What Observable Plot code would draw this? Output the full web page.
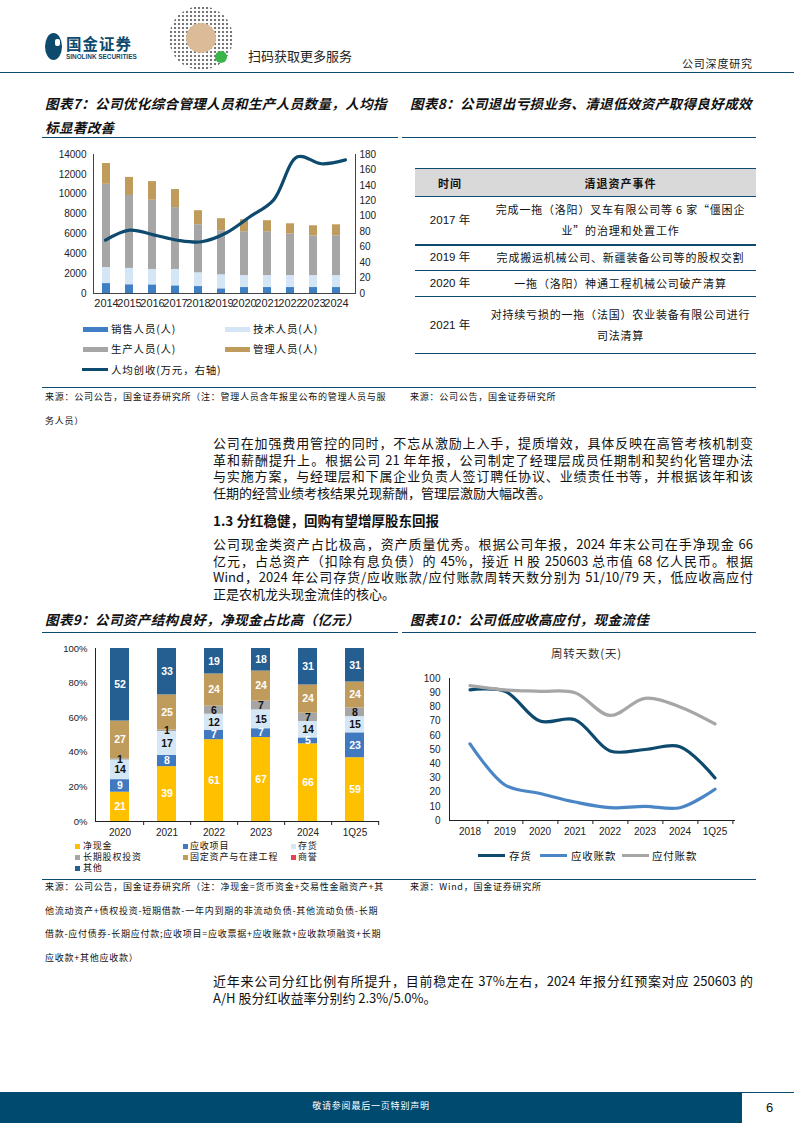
<!DOCTYPE html>
<html><head><meta charset="utf-8">
<script src="https://cdn.jsdelivr.net/npm/d3@7"></script>
<script src="https://cdn.jsdelivr.net/npm/@observablehq/plot@0.6"></script>
<style>
body{margin:0;background:#fff;}
#page{position:relative;width:794px;height:1123px;overflow:hidden;font-family:"Noto Sans CJK SC","Noto Sans",sans-serif;color:#111;background:#fff;}
.abs{position:absolute;}
.hline{position:absolute;height:0;border-top:1.5px solid #0d4a6e;}
.title{position:absolute;font-size:13.5px;font-weight:bold;font-style:italic;line-height:24px;letter-spacing:0.4px;white-space:nowrap;color:#111;}
.src{position:absolute;font-size:9px;line-height:23.5px;letter-spacing:0.75px;white-space:nowrap;color:#111;}
.body{position:absolute;left:213px;width:540px;font-size:13px;line-height:16.6px;color:#111;}
.body div{white-space:nowrap;}
.body .j{text-align:justify;text-align-last:justify;white-space:normal;}
.lg{position:absolute;font-size:10.5px;line-height:12px;white-space:nowrap;letter-spacing:0.8px;}
.sw{position:absolute;}
.lg9{position:absolute;font-size:9px;line-height:10px;white-space:nowrap;letter-spacing:0.8px;}
table#t8{position:absolute;left:415px;top:168px;width:341px;border-collapse:collapse;font-size:11px;}
#t8 th{background:#d9d9d9;height:27px;font-weight:bold;padding:0;border-top:1.5px solid #0d4a6e;border-bottom:1px solid #0d4a6e;font-size:11px;letter-spacing:1px;}
#t8 td{padding:0;text-align:center;border-bottom:1px solid #0d4a6e;line-height:21px;letter-spacing:0.8px;white-space:nowrap;}
#t8 td.y{font-family:"Liberation Sans","Noto Sans CJK SC",sans-serif;font-size:11.5px;letter-spacing:0;}
</style></head>
<body><div id="page">

<!-- header -->
<div class="abs" style="left:45px;top:33px;width:17px;height:27px;border-radius:50%;background:#0d4a6e;"></div>
<div class="abs" style="left:55px;top:39px;width:5px;height:7px;background:#fff;border-radius:2px;"></div>
<div class="abs" style="left:66px;top:34px;font-size:15.5px;font-weight:bold;color:#0d4a6e;letter-spacing:1px;line-height:18px;">国金证券</div>
<div class="abs" style="left:66px;top:53px;font-size:6.4px;font-weight:bold;color:#0d4a6e;font-family:'Liberation Sans',sans-serif;line-height:8px;">SINOLINK SECURITIES</div>
<div class="abs" style="left:169px;top:6px;width:64px;height:64px;border-radius:50%;background:radial-gradient(circle,#555 1px,transparent 1.6px) 0 0/4px 4px;opacity:0.8;"></div>
<div class="abs" style="left:186px;top:23px;width:30px;height:30px;border-radius:50%;background:#dcbc98;"></div>
<div class="abs" style="left:215px;top:51px;width:12px;height:12px;border-radius:50%;background:#3ab54a;"></div>
<div class="abs" style="left:248px;top:47px;font-size:13px;line-height:18px;color:#222;">扫码获取更多服务</div>
<div class="abs" style="left:682px;top:55px;font-size:11px;line-height:16px;letter-spacing:0.8px;color:#222;">公司深度研究</div>
<div class="hline" style="left:0;top:72px;width:794px;"></div>

<!-- chart titles -->
<div class="title" style="left:45px;top:91px;">图表7：公司优化综合管理人员和生产人员数量，人均指<br>标显著改善</div>
<div class="title" style="left:410px;top:91px;">图表8：公司退出亏损业务、清退低效资产取得良好成效</div>
<div class="hline" style="left:42px;top:137px;width:356px;"></div>
<div class="hline" style="left:402px;top:137px;width:354px;"></div>

<div id="c7" class="abs" style="left:40px;top:140px;"></div>
<div id="c7b" class="abs" style="left:40px;top:140px;"></div>

<!-- legend 7 -->
<div class="sw" style="left:83px;top:327px;width:25px;height:5px;background:#3f7fc4;"></div>
<div class="lg" style="left:111px;top:323px;">销售人员(人)</div>
<div class="sw" style="left:225px;top:327px;width:25px;height:5px;background:#d4e5f5;"></div>
<div class="lg" style="left:253px;top:323px;">技术人员(人)</div>
<div class="sw" style="left:83px;top:347px;width:25px;height:5px;background:#a6a6a6;"></div>
<div class="lg" style="left:111px;top:343px;">生产人员(人)</div>
<div class="sw" style="left:225px;top:347px;width:25px;height:5px;background:#bf9b5c;"></div>
<div class="lg" style="left:253px;top:343px;">管理人员(人)</div>
<div class="sw" style="left:82px;top:368px;width:26px;height:3px;background:#0d4a6e;"></div>
<div class="lg" style="left:111px;top:364px;">人均创收(万元，右轴)</div>

<!-- table 8 -->
<table id="t8">
<tr><th style="width:70px;">时间</th><th>清退资产事件</th></tr>
<tr style="height:48px;"><td class="y" style="border-bottom:2px solid #0d4a6e;">2017 年</td><td style="border-bottom:2px solid #0d4a6e;">完成一拖（洛阳）叉车有限公司等 6 家“僵困企<br>业”的治理和处置工作</td></tr>
<tr style="height:26px;"><td class="y">2019 年</td><td>完成搬运机械公司、新疆装备公司等的股权交割</td></tr>
<tr style="height:26px;"><td class="y">2020 年</td><td>一拖（洛阳）神通工程机械公司破产清算</td></tr>
<tr style="height:57px;"><td class="y">2021 年</td><td>对持续亏损的一拖（法国）农业装备有限公司进行<br>司法清算</td></tr>
</table>

<div class="hline" style="left:42px;top:387px;width:714px;border-top-width:1px;"></div>
<div class="src" style="left:45px;top:385px;">来源：公司公告，国金证券研究所（注：管理人员含年报里公布的管理人员与服<br>务人员）</div>
<div class="src" style="left:410px;top:385px;">来源：公司公告，国金证券研究所</div>

<!-- body text -->
<div class="body" style="top:435px;">
<div class="j">公司在加强费用管控的同时，不忘从激励上入手，提质增效，具体反映在高管考核机制变</div>
<div class="j">革和薪酬提升上。根据公司 21 年年报，公司制定了经理层成员任期制和契约化管理办法</div>
<div class="j">与实施方案，与经理层和下属企业负责人签订聘任协议、业绩责任书等，并根据该年和该</div>
<div>任期的经营业绩考核结果兑现薪酬，管理层激励大幅改善。</div>
</div>
<div class="body" style="top:512px;font-weight:bold;font-size:13.5px;">1.3 分红稳健，回购有望增厚股东回报</div>
<div class="body" style="top:536px;">
<div class="j">公司现金类资产占比极高，资产质量优秀。根据公司年报，2024 年末公司在手净现金 66</div>
<div class="j">亿元，占总资产（扣除有息负债）的 45%，接近 H 股 250603 总市值 68 亿人民币。根据</div>
<div class="j">Wind，2024 年公司存货/应收账款/应付账款周转天数分别为 51/10/79 天，低应收高应付</div>
<div>正是农机龙头现金流佳的核心。</div>
</div>

<div class="title" style="left:45px;top:607px;">图表9：公司资产结构良好，净现金占比高（亿元）</div>
<div class="title" style="left:410px;top:607px;">图表10：公司低应收高应付，现金流佳</div>
<div class="hline" style="left:42px;top:632px;width:356px;"></div>
<div class="hline" style="left:402px;top:632px;width:354px;"></div>

<div id="c9" class="abs" style="left:40px;top:630px;"></div>
<div id="c10" class="abs" style="left:400px;top:630px;"></div>
<div class="abs" style="left:551px;top:645px;font-size:11.5px;line-height:16px;color:#333;letter-spacing:0.8px;">周转天数(天)</div>

<!-- legend 9 -->
<div class="sw" style="left:75px;top:844px;width:5px;height:5px;background:#ffc000;"></div>
<div class="lg9" style="left:83px;top:841px;">净现金</div>
<div class="sw" style="left:183px;top:844px;width:5px;height:5px;background:#4079c0;"></div>
<div class="lg9" style="left:190px;top:841px;">应收项目</div>
<div class="sw" style="left:291px;top:844px;width:5px;height:5px;background:#d5e6f5;"></div>
<div class="lg9" style="left:298px;top:841px;">存货</div>
<div class="sw" style="left:75px;top:855px;width:5px;height:5px;background:#a6a6a6;"></div>
<div class="lg9" style="left:83px;top:852px;">长期股权投资</div>
<div class="sw" style="left:183px;top:855px;width:5px;height:5px;background:#bf9b5c;"></div>
<div class="lg9" style="left:190px;top:852px;">固定资产与在建工程</div>
<div class="sw" style="left:291px;top:855px;width:5px;height:5px;background:#e8404f;"></div>
<div class="lg9" style="left:298px;top:852px;">商誉</div>
<div class="sw" style="left:75px;top:866px;width:5px;height:5px;background:#255e91;"></div>
<div class="lg9" style="left:83px;top:863px;">其他</div>

<!-- legend 10 -->
<div class="sw" style="left:478px;top:854px;width:27px;height:3px;background:#0d4a6e;"></div>
<div class="lg" style="left:509px;top:850px;">存货</div>
<div class="sw" style="left:540px;top:854px;width:27px;height:3px;background:#4a86c6;"></div>
<div class="lg" style="left:571px;top:850px;">应收账款</div>
<div class="sw" style="left:622px;top:854px;width:27px;height:3px;background:#a6a6a6;"></div>
<div class="lg" style="left:652px;top:850px;">应付账款</div>

<div class="hline" style="left:42px;top:879px;width:714px;border-top-width:1px;"></div>
<div class="src" style="left:45px;top:875px;">来源：公司公告，国金证券研究所（注：净现金=货币资金+交易性金融资产+其<br>他流动资产+债权投资-短期借款-一年内到期的非流动负债-其他流动负债-长期<br>借款-应付债券-长期应付款;应收项目=应收票据+应收账款+应收款项融资+长期<br>应收款+其他应收款）</div>
<div class="src" style="left:410px;top:875px;">来源：Wind，国金证券研究所</div>

<div class="body" style="top:973px;">
<div class="j">近年来公司分红比例有所提升，目前稳定在 37%左右，2024 年报分红预案对应 250603 的</div>
<div>A/H 股分红收益率分别约 2.3%/5.0%。</div>
</div>

<!-- footer -->
<div class="abs" style="left:0;top:1092px;width:742px;height:31px;background:#004a70;"></div>
<div class="abs" style="left:0;top:1099px;width:742px;text-align:center;font-size:9px;line-height:14px;color:#fff;letter-spacing:0.8px;">敬请参阅最后一页特别声明</div>
<div class="hline" style="left:742px;top:1092px;width:52px;border-top-width:1px;"></div>
<div class="abs" style="left:766px;top:1099px;font-size:13px;line-height:18px;font-family:'Liberation Sans',sans-serif;">6</div>

</div>
<script>
// ---------- Chart 7 data ----------
const years7 = ["2014","2015","2016","2017","2018","2019","2020","2021","2022","2023","2024"];
const salesStaff = [1000, 880, 870, 770, 700, 470, 600, 600, 600, 600, 600];
const techStaff = [1620, 1650, 1550, 1650, 1380, 1410, 1210, 1210, 1210, 1210, 1210];
const productionStaff = [8380, 7340, 6970, 6230, 4850, 4440, 4410, 4410, 4170, 4000, 4000];
const managementStaff = [2090, 1820, 1880, 1820, 1410, 1210, 1210, 1110, 1040, 1010, 1110];
const revenuePerCapita = [69, 82, 76, 69, 67, 78, 99, 121, 177, 168, 173];
const staffSeries = ["销售人员(人)","技术人员(人)","生产人员(人)","管理人员(人)"];
const staffColors = ["#3f7fc4","#d4e5f5","#a6a6a6","#bf9b5c"];
const leftTicks7 = [0,2000,4000,6000,8000,10000,12000,14000];
const rightTicks7 = [0,20,40,60,80,100,120,140,160,180];

// ---------- Chart 9 data (亿元) ----------
const periods9 = ["2020","2021","2022","2023","2024","1Q25"];
const assetSeries = ["净现金","应收项目","存货","长期股权投资","固定资产与在建工程","商誉","其他"];
const assetColors = ["#ffc000","#4079c0","#d5e6f5","#a6a6a6","#bf9b5c","#e8404f","#255e91"];
const netCash = [21, 39, 61, 67, 66, 59];
const receivableItems = [9, 8, 7, 7, 5, 23];
const inventoryAssets = [14, 17, 12, 15, 14, 15];
const equityInvestments = [1, 1, 6, 7, 7, 8];
const fixedAssets = [27, 25, 24, 24, 24, 24];
const goodwill = [0, 0, 0, 0, 0, 0];
const otherAssets = [52, 33, 19, 18, 31, 31];
const darkLabelSeries = ["存货","长期股权投资"];
const pctTicks9 = [0,0.2,0.4,0.6,0.8,1];

// ---------- Chart 10 data (days) ----------
const periods10 = ["2018","2019","2020","2021","2022","2023","2024","1Q25"];
const inventoryDays = [92, 91, 70, 71, 49, 50, 52, 30];
const receivableDays = [54, 25, 19, 13, 9, 10, 9, 22];
const payableDays = [95, 92, 91, 90, 74, 86, 80, 68];
const turnoverSeries = ["存货","应收账款","应付账款"];
const turnoverColors = ["#0d4a6e","#4a86c6","#a6a6a6"];
const dayTicks10 = [0,10,20,30,40,50,60,70,80,90,100];

const numFont = "'Liberation Sans', Arial, 'Noto Sans CJK SC', sans-serif";

// ---------- Chart 7 ----------
const staffArrays = [salesStaff, techStaff, productionStaff, managementStaff];
const staffRows = years7.flatMap((year, i) => staffSeries.map((series, k) => ({year, series, value: staffArrays[k][i]})));
const revRows = years7.map((year, i) => ({year, value: revenuePerCapita[i]}));

const p7 = Plot.plot({
  width: 360, height: 175,
  marginLeft: 53, marginRight: 45, marginTop: 14, marginBottom: 22,
  style: {fontFamily: numFont, fontSize: "10px", color: "#222", background: "transparent", overflow: "visible"},
  x: {type: "band", domain: years7, range: [54.5, 308], paddingInner: 0.65, paddingOuter: 0.325, label: null},
  y: {domain: [0, 14000], label: null},
  color: {domain: staffSeries, range: staffColors},
  marks: [
    Plot.barY(staffRows, Plot.stackY({order: staffSeries}, {x: "year", y: "value", z: "series", fill: "series"})),
    Plot.axisY({ticks: leftTicks7, tickSize: 0, tickPadding: 7, tickFormat: d => String(d), label: null, fontSize: 10}),
    Plot.axisX({tickSize: 0, tickPadding: 6, label: null, fontSize: 11}),
    Plot.ruleY([0], {stroke: "#444"}),
    Plot.frame({anchor: "left", stroke: "#444"}),
    Plot.frame({anchor: "right", stroke: "#444"})
  ]
});
document.getElementById("c7").appendChild(p7);

const p7b = Plot.plot({
  width: 360, height: 175,
  marginLeft: 53, marginRight: 45, marginTop: 14, marginBottom: 22,
  style: {fontFamily: numFont, fontSize: "10px", color: "#222", background: "transparent", overflow: "visible"},
  x: {type: "point", domain: years7, range: [64.3, 306], padding: 0, axis: null},
  y: {domain: [0, 180], label: null},
  marks: [
    Plot.line(revRows, {x: "year", y: "value", stroke: "#0d4a6e", strokeWidth: 3.2, curve: "catmull-rom"}),
    Plot.axisY({anchor: "right", ticks: rightTicks7, tickSize: 0, tickPadding: 4, label: null, fontSize: 10})
  ]
});
document.getElementById("c7b").appendChild(p7b);

// ---------- Chart 9 ----------
const assetArrays = [netCash, receivableItems, inventoryAssets, equityInvestments, fixedAssets, goodwill, otherAssets];
const assetRows = periods9.flatMap((period, i) => assetSeries.map((series, k) => ({period, series, value: assetArrays[k][i]})));
const w9 = 360, ml9 = 55, mr9 = 21;
const step9 = (w9 - ml9 - mr9) / periods9.length;
const stack9 = {offset: "normalize", order: assetSeries};
const p9 = Plot.plot({
  width: w9, height: 215,
  marginLeft: ml9, marginRight: mr9, marginTop: 18, marginBottom: 24,
  style: {fontFamily: numFont, fontSize: "9.5px", color: "#222", background: "transparent", overflow: "visible"},
  x: {type: "band", domain: periods9, paddingInner: 0.6, paddingOuter: 0.3, label: null},
  y: {domain: [0, 1], label: null},
  color: {domain: assetSeries, range: assetColors},
  marks: [
    Plot.barY(assetRows, Plot.stackY(stack9, {x: "period", y: "value", z: "series", fill: "series"})),
    Plot.text(assetRows, Plot.stackY(stack9, {x: "period", y: "value", z: "series",
      text: d => (d.value > 0 && !darkLabelSeries.includes(d.series)) ? String(d.value) : null,
      fill: "white", fontWeight: "bold", fontSize: 10.5})),
    Plot.text(assetRows, Plot.stackY(stack9, {x: "period", y: "value", z: "series",
      text: d => (d.value > 0 && darkLabelSeries.includes(d.series)) ? String(d.value) : null,
      fill: "#111", fontWeight: "bold", fontSize: 10.5})),
    Plot.axisY({ticks: pctTicks9, tickSize: 0, tickPadding: 8, tickFormat: d => Math.round(d * 100) + "%", label: null}),
    Plot.axisX({tickSize: 0, tickPadding: 7, label: null, fontSize: 10}),
    Plot.axisX({tickSize: 4, dx: step9 / 2, tickFormat: () => "", label: null, stroke: "#222"}),
    Plot.ruleY([0], {stroke: "#222"}),
    Plot.frame({anchor: "left", stroke: "#222"})
  ]
});
document.getElementById("c9").appendChild(p9);

// ---------- Chart 10 ----------
const dayArrays = [inventoryDays, receivableDays, payableDays];
const dayRows = turnoverSeries.flatMap((series, k) => periods10.map((period, i) => ({period, series, value: dayArrays[k][i]})));
const w10 = 394, ml10 = 49, mr10 = 59;
const step10 = (w10 - ml10 - mr10) / periods10.length;
const p10 = Plot.plot({
  width: w10, height: 215,
  marginLeft: ml10, marginRight: mr10, marginTop: 48, marginBottom: 25,
  style: {fontFamily: numFont, fontSize: "10px", color: "#222", background: "transparent", overflow: "visible"},
  x: {type: "band", domain: periods10, padding: 0, label: null},
  y: {domain: [0, 100], label: null},
  color: {domain: turnoverSeries, range: turnoverColors},
  marks: [
    Plot.line(dayRows, {x: "period", y: "value", z: "series", stroke: "series", strokeWidth: 3.2, curve: "catmull-rom"}),
    Plot.axisY({ticks: dayTicks10, tickSize: 0, tickPadding: 9, label: null}),
    Plot.axisX({tickSize: 0, tickPadding: 7, label: null}),
    Plot.axisX({tickSize: 4, dx: step10 / 2, tickFormat: () => "", label: null, stroke: "#222"}),
    Plot.ruleY([0], {stroke: "#222"}),
    Plot.frame({anchor: "left", stroke: "#222"})
  ]
});
document.getElementById("c10").appendChild(p10);
</script>
</body></html>
